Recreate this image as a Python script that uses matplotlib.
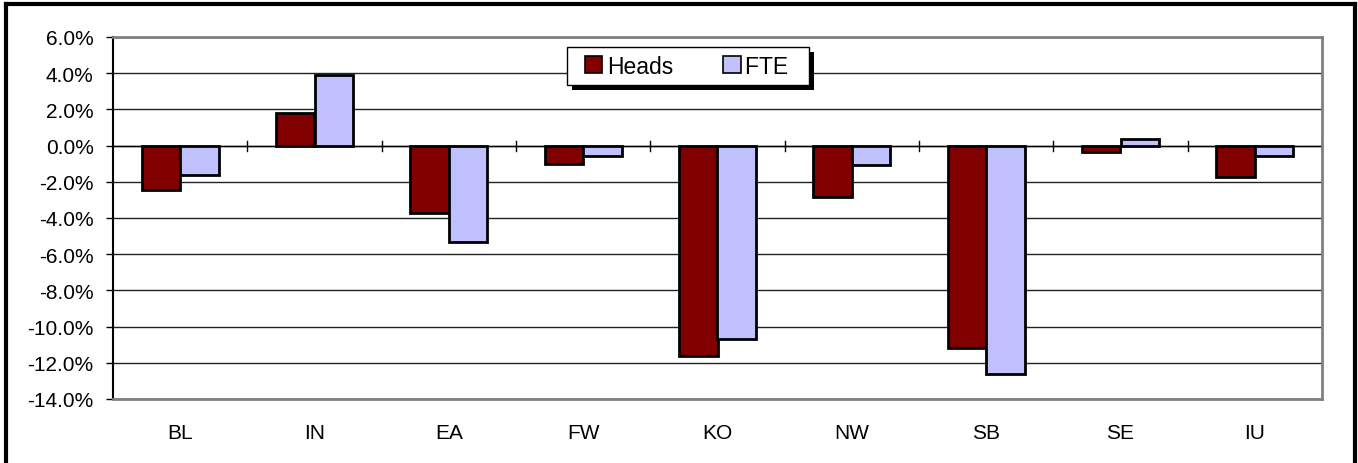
import matplotlib
matplotlib.use("Agg")
import matplotlib.pyplot as plt
import numpy as np
from matplotlib.lines import Line2D
from matplotlib.patches import Rectangle
from matplotlib.legend_handler import HandlerPatch
from matplotlib.ticker import FuncFormatter, MultipleLocator

categories = ["BL", "IN", "EA", "FW", "KO", "NW", "SB", "SE", "IU"]
heads = [-2.45, 1.8, -3.7, -1.0, -11.6, -2.85, -11.2, -0.33, -1.75]
fte = [-1.6, 3.9, -5.35, -0.6, -10.7, -1.07, -12.6, 0.35, -0.6]

plt.rcParams['font.family'] = ['Liberation Sans', 'DejaVu Sans']

W, H = 1358, 464
fig = plt.figure(figsize=(W / 100, H / 100), dpi=100)
left, right, top, bottom = 113, 1322, 38, 400
ax = fig.add_axes([left / W, 1 - bottom / H, (right - left) / W, (bottom - top) / H])

n = len(categories)
x = np.arange(n)
bw = 1 / 3.5
b1 = ax.bar(x - bw / 2, heads, width=bw, color="#800000", edgecolor="black", linewidth=2, label="Heads", zorder=3)
b2 = ax.bar(x + bw / 2, fte, width=bw, color="#C0C0FF", edgecolor="black", linewidth=2, label="FTE", zorder=3)

ax.set_xlim(-0.5, n - 0.5)
ax.set_ylim(-14, 6)
ax.yaxis.set_major_locator(MultipleLocator(2))
ax.yaxis.set_major_formatter(FuncFormatter(lambda v, p: f"{v:.1f}%"))
ax.grid(axis="y", color="#222222", linewidth=1, zorder=0)
ax.tick_params(axis="y", length=5, width=1, pad=9, labelsize=15, direction="out")
ax.set_xticks(x)
ax.set_xticklabels(categories)
ax.tick_params(axis="x", length=0, pad=17, labelsize=15)

for s in ["top", "right", "bottom"]:
    ax.spines[s].set_color("#808080")
    ax.spines[s].set_linewidth(2)
ax.spines["left"].set_color("black")
ax.spines["left"].set_linewidth(1.5)

# zero axis with category-boundary tick marks
ax.axhline(0, color="black", linewidth=1, zorder=2)
for b in np.arange(0.5, n, 1.0):
    ax.plot([b, b], [-0.28, 0.28], color="black", linewidth=1, zorder=2)


def square_patch(legend, orig_handle, xdescent, ydescent, width, height, fontsize):
    s = 12.5  # points
    return Rectangle((-xdescent + width - s, -ydescent + (height - s) / 2), s, s)


class SquareHandler(HandlerPatch):
    def __init__(self):
        super().__init__(patch_func=square_patch)

    def update_prop(self, legend_handle, orig_handle, legend):
        super().update_prop(legend_handle, orig_handle, legend)
        legend_handle.set_linewidth(1.2)
        legend_handle.set_edgecolor("black")


handles = [b1.patches[0], b2.patches[0]]
labels = ["Heads", "FTE  "]
leg = ax.legend(handles, labels, loc="upper left",
                bbox_to_anchor=((567 - left) / (right - left), 1 - (48 - top) / (bottom - top)),
                ncol=2, fontsize=16.5, frameon=True, fancybox=False, shadow=False, framealpha=1,
                facecolor="white", edgecolor="black", handlelength=1.2, handleheight=0.7, handletextpad=0.2,
                columnspacing=1.75, borderpad=0.33, borderaxespad=0,
                handler_map={Rectangle: SquareHandler()})
leg.get_frame().set_linewidth(1)
leg.set_zorder(6)

fig.canvas.draw()
bb = leg.get_window_extent()
ax.add_patch(Rectangle((bb.x0 + 5, bb.y0 - 5), bb.width, bb.height, transform=None,
                       facecolor="black", edgecolor="none", zorder=5.5, clip_on=False))

# outer frame (top, left, right)
fig.add_artist(Line2D([6 / W, 6 / W], [0, 1 - 5 / H], transform=fig.transFigure, color="black", linewidth=3))
fig.add_artist(Line2D([1355 / W, 1355 / W], [0, 1 - 5 / H], transform=fig.transFigure, color="black", linewidth=3))
fig.add_artist(Line2D([6 / W, 1355 / W], [1 - 5 / H, 1 - 5 / H], transform=fig.transFigure, color="black", linewidth=3))

fig.savefig("out.png", dpi=100)
